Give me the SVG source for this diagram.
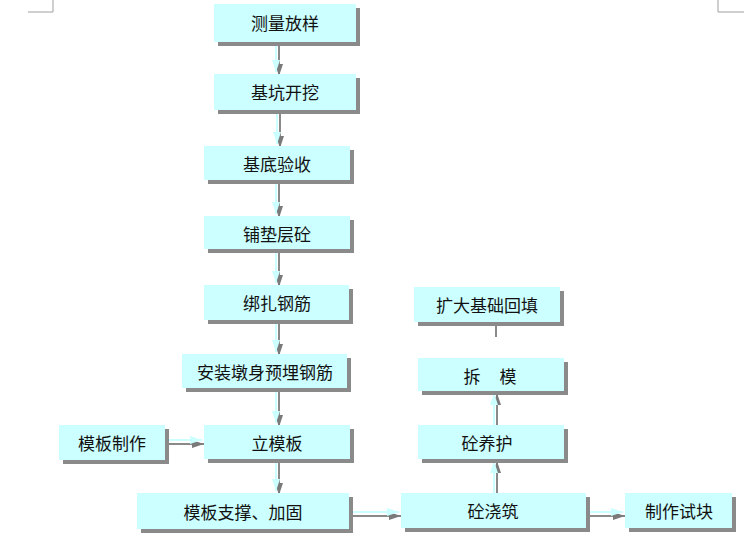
<svg xmlns="http://www.w3.org/2000/svg" width="751" height="545" viewBox="0 0 751 545">
<style>
.sh{fill:#8a8a8a}
.bx{fill:#ccffff}
.t{font-family:"Noto Sans CJK SC","Noto Sans CJK JP",sans-serif;font-size:17px;fill:#111;text-anchor:middle;dominant-baseline:central;white-space:pre}
.cs{stroke:#8a8a8a;stroke-width:2;fill:none}
.cc{stroke:#ccffff;stroke-width:2;fill:none}
.mk{stroke:#a0a0a0;stroke-width:1;fill:none}
</style>
<defs>
<marker id="ac" viewBox="0 0 12 8" refX="12" refY="4" markerWidth="6" markerHeight="4" orient="auto" markerUnits="strokeWidth"><path d="M0,0 L12,4 L0,8 z" fill="#ccffff"/></marker>
<marker id="ag" viewBox="0 0 12 8" refX="12" refY="4" markerWidth="6" markerHeight="4" orient="auto" markerUnits="strokeWidth"><path d="M0,0 L12,4 L0,8 z" fill="#7a7a7a"/></marker>
</defs>
<rect width="751" height="545" fill="#fff"/>
<polyline class="mk" points="28,12 53,12 53,0"/>
<polyline class="mk" points="718,0 718,12 744,12"/>

<g id="connectors">
<path class="cs" d="M279,46 V76" marker-end="url(#ag)"/><path class="cc" d="M276,42 V72" marker-end="url(#ac)"/>
<path class="cs" d="M280,114 V148" marker-end="url(#ag)"/><path class="cc" d="M277,110 V144" marker-end="url(#ac)"/>
<path class="cs" d="M279,184 V218" marker-end="url(#ag)"/><path class="cc" d="M276,180 V214" marker-end="url(#ac)"/>
<path class="cs" d="M279,253 V287" marker-end="url(#ag)"/><path class="cc" d="M276,249 V283" marker-end="url(#ac)"/>
<path class="cs" d="M279,324 V356" marker-end="url(#ag)"/><path class="cc" d="M276,320 V352" marker-end="url(#ac)"/>
<path class="cs" d="M279,392 V427" marker-end="url(#ag)"/><path class="cc" d="M276,388 V423" marker-end="url(#ac)"/>
<path class="cs" d="M279,463 V495" marker-end="url(#ag)"/><path class="cc" d="M276,459 V491" marker-end="url(#ac)"/>
<path class="cs" d="M169,444 H204" marker-end="url(#ag)"/><path class="cc" d="M165,440 H202" marker-end="url(#ac)"/>
<path class="cs" d="M353,516 H401" marker-end="url(#ag)"/><path class="cc" d="M349,512 H399" marker-end="url(#ac)"/>
<path class="cs" d="M590,516 H625" marker-end="url(#ag)"/><path class="cc" d="M586,512 H623" marker-end="url(#ac)"/>
<path class="cs" d="M497,493 V461" marker-end="url(#ag)"/><path class="cc" d="M494,493 V461" marker-end="url(#ac)"/>
<path class="cs" d="M497,425 V393" marker-end="url(#ag)"/><path class="cc" d="M494,425 V393" marker-end="url(#ac)"/>
<path class="cs" d="M496,322 V337"/>
</g>

<g id="n1"><rect class="sh" x="218" y="8" width="142" height="38"/><rect class="bx" x="214" y="4" width="142" height="38"/><text class="t" x="285" y="22">测量放样</text></g>
<g id="n2"><rect class="sh" x="218" y="78" width="142" height="36"/><rect class="bx" x="214" y="74" width="142" height="36"/><text class="t" x="285" y="91">基坑开挖</text></g>
<g id="n3"><rect class="sh" x="208" y="150" width="146" height="34"/><rect class="bx" x="204" y="146" width="146" height="34"/><text class="t" x="277" y="163">基底验收</text></g>
<g id="n4"><rect class="sh" x="208" y="220" width="146" height="33"/><rect class="bx" x="204" y="216" width="146" height="33"/><text class="t" x="277" y="233">铺垫层砼</text></g>
<g id="n5"><rect class="sh" x="208" y="289" width="145" height="35"/><rect class="bx" x="204" y="285" width="145" height="35"/><text class="t" x="277" y="302">绑扎钢筋</text></g>
<g id="n6"><rect class="sh" x="186" y="358" width="165" height="34"/><rect class="bx" x="182" y="354" width="165" height="34"/><text class="t" x="265" y="371">安装墩身预埋钢筋</text></g>
<g id="n7"><rect class="sh" x="208" y="429" width="146" height="34"/><rect class="bx" x="204" y="425" width="146" height="34"/><text class="t" x="277" y="442">立模板</text></g>
<g id="n8"><rect class="sh" x="141" y="497" width="212" height="36"/><rect class="bx" x="137" y="493" width="212" height="36"/><text class="t" x="243" y="511">模板支撑、加固</text></g>
<g id="n9"><rect class="sh" x="63" y="429" width="106" height="35"/><rect class="bx" x="59" y="425" width="106" height="35"/><text class="t" x="112" y="442">模板制作</text></g>
<g id="n10"><rect class="sh" x="418" y="291" width="146" height="35"/><rect class="bx" x="414" y="287" width="146" height="35"/><text class="t" x="487" y="304">扩大基础回填</text></g>
<g id="n11"><rect class="sh" x="422" y="362" width="146" height="33"/><rect class="bx" x="418" y="358" width="146" height="33"/><text class="t" x="490" y="375">拆     模</text></g>
<g id="n12"><rect class="sh" x="422" y="429" width="146" height="34"/><rect class="bx" x="418" y="425" width="146" height="34"/><text class="t" x="487" y="442">砼养护</text></g>
<g id="n13"><rect class="sh" x="405" y="497" width="185" height="35"/><rect class="bx" x="401" y="493" width="185" height="35"/><text class="t" x="493" y="510">砼浇筑</text></g>
<g id="n14"><rect class="sh" x="629" y="497" width="107" height="35"/><rect class="bx" x="625" y="493" width="107" height="35"/><text class="t" x="679" y="510">制作试块</text></g>
</svg>
